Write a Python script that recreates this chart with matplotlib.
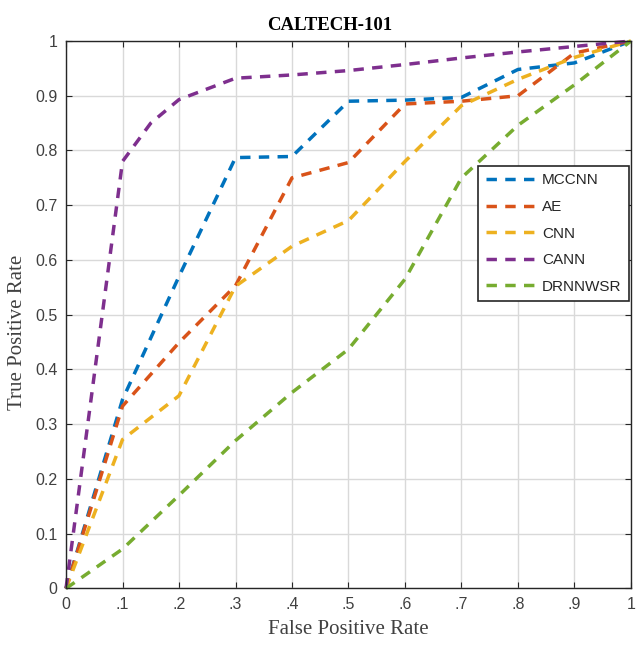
import matplotlib
matplotlib.use("Agg")
import matplotlib.pyplot as plt
import numpy as np

# ---- data ----
fpr = [0.0, 0.1, 0.2, 0.3, 0.4, 0.5, 0.6, 0.7, 0.8, 0.9, 1.0]
mccnn = [0.0, 0.345, 0.57, 0.787, 0.789, 0.89, 0.892, 0.897, 0.948, 0.96, 1.0]
ae = [0.0, 0.333, 0.449, 0.553, 0.75, 0.778, 0.885, 0.89, 0.90, 0.978, 1.0]
cnn = [0.0, 0.272, 0.352, 0.552, 0.625, 0.672, 0.78, 0.882, 0.93, 0.97, 1.0]
cann_fpr = [0.0, 0.1, 0.15, 0.2, 0.3, 0.4, 0.5, 0.6, 0.7, 0.8, 0.9, 1.0]
cann = [0.0, 0.78, 0.85, 0.893, 0.932, 0.938, 0.946, 0.957, 0.969, 0.98, 0.99, 1.0]
drnnwsr = [0.0, 0.072, 0.17, 0.27, 0.358, 0.437, 0.565, 0.75, 0.846, 0.92, 1.0]

labels = ["MCCNN", "AE", "CNN", "CANN", "DRNNWSR"]
colors = ["#0072BD", "#D95319", "#EDB120", "#7E2F8E", "#77AC30"]

xticks = [0, 0.1, 0.2, 0.3, 0.4, 0.5, 0.6, 0.7, 0.8, 0.9, 1.0]
xticklabels = ["0", ".1", ".2", ".3", ".4", ".5", ".6", ".7", ".8", ".9", "1"]
yticks = [0, 0.1, 0.2, 0.3, 0.4, 0.5, 0.6, 0.7, 0.8, 0.9, 1.0]
yticklabels = ["0", "0.1", "0.2", "0.3", "0.4", "0.5", "0.6", "0.7", "0.8", "0.9", "1"]

fig = plt.figure(figsize=(6.36, 6.56), dpi=100)
ax = fig.add_axes([0.1038, 0.103, 0.8883, 0.8345])

series = [(fpr, mccnn), (fpr, ae), (fpr, cnn), (cann_fpr, cann), (fpr, drnnwsr)]
for (xs, ys), lab, c in zip(series, labels, colors):
    ax.plot(xs, ys, color=c, lw=2.5, linestyle=(0, (3.0, 2.4)), label=lab,
            dash_capstyle="butt", clip_on=False)

ax.set_xlim(0, 1)
ax.set_ylim(0, 1)
ax.set_xticks(xticks)
ax.set_xticklabels(xticklabels)
ax.set_yticks(yticks)
ax.set_yticklabels(yticklabels)

axcol = "#262626"
for s in ax.spines.values():
    s.set_color(axcol)
    s.set_linewidth(1.0)
ax.tick_params(direction="in", length=4, width=0.8, top=True, right=True,
               colors=axcol, labelsize=11.5, pad=6)
for t in ax.get_xticklabels() + ax.get_yticklabels():
    t.set_fontfamily("Liberation Sans")
    t.set_color("#404040")

ax.grid(True, color="#d9d9d9", lw=1.0)
ax.set_axisbelow(True)

ax.set_title("CALTECH-101", fontfamily="Liberation Serif", fontweight="bold",
             fontsize=13.5, pad=8, x=0.466)
ax.set_xlabel("False Positive Rate", fontfamily="Liberation Serif", fontsize=15,
              color="#404040", labelpad=6)
ax.set_ylabel("True Positive Rate", fontfamily="Liberation Serif", fontsize=15,
              color="#404040", labelpad=6, y=0.468)

leg = ax.legend(loc="upper left", bbox_to_anchor=(0.729, 0.772), borderaxespad=0,
                prop={"family": "Liberation Sans", "size": 11},
                handlelength=3.6, handletextpad=0.1, labelspacing=0.82,
                fancybox=False, framealpha=1, edgecolor="#262626",
                borderpad=0.5)
leg.get_frame().set_linewidth(1.2)
for t in leg.get_texts():
    t.set_color("#262626")

fig.savefig("out.png", dpi=100)
